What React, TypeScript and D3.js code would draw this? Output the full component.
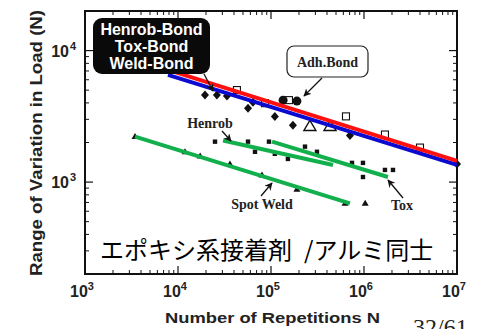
import React from "react";
import * as d3 from "d3";

// Fitted S-N trend lines: [repetitions, load range]
const redLine: [number, number][] = [[7800, 7140], [1e7, 1450]];
const blueLine: [number, number][] = [[7800, 6540], [1e7, 1350]];
const spotWeldLine: [number, number][] = [[3450, 2220], [706000, 689]];
const henrobLine: [number, number][] = [[30500, 2070], [464000, 1350]];
const toxLine: [number, number][] = [[102600, 2030], [1810000, 1093]];

// Test data by marker type
const diamonds: [number, number][] = [
  [19500, 4590], [26200, 4590], [33600, 4510], [56600, 3650], [64000, 4050],
  [110000, 3160], [172000, 2700], [706000, 2260], [1e7, 1375],
];
const openSquares: [number, number][] = [
  [43000, 5010], [86100, 3980], [156000, 4200], [640000, 3160], [1680000, 2300], [4000000, 1830],
];
const bigCircles: [number, number][] = [[135000, 4200], [190000, 4130]];
const openTriangles: [number, number][] = [[262000, 2650], [431000, 2650]];
const smallDots: [number, number][] = [
  [25000, 2030], [56600, 2030], [95100, 2030], [67300, 1700], [110000, 1640],
  [152000, 1500], [232000, 1860], [312000, 1700], [743000, 1400], [975000, 1400],
  [975000, 1093], [1680000, 1237], [2050000, 1237],
];
const smallTriangles: [number, number][] = [
  [3450, 2220], [11900, 1700], [17300, 1580], [36200, 1375], [80000, 1130],
  [190000, 884], [625000, 689], [1030000, 689],
];

const xDecades = [3, 4, 5, 6, 7];
const yDecades = [3, 4];
const bondLegend = ["Henrob-Bond", "Tox-Bond", "Weld-Bond"];

const W = 492;
const H = 329;
const plot = { left: 85, right: 457, top: 11, bottom: 274 };

export default function App() {
  const x = d3.scaleLog().domain([1e3, 1e7]).range([plot.left, plot.right]);
  const y = d3.scaleLog().domain([200, 20000]).range([plot.bottom, plot.top]);
  const line = d3
    .line<[number, number]>()
    .x((d) => x(d[0]))
    .y((d) => y(d[1]));

  const xMinor: number[] = [];
  for (let e = 3; e < 7; e++) for (let m = 2; m <= 9; m++) xMinor.push(m * 10 ** e);
  const yMinor: number[] = [];
  for (let e = 2; e < 5; e++)
    for (let m = 2; m <= 9; m++) {
      const v = m * 10 ** e;
      if (v > 200 && v < 20000) yMinor.push(v);
    }

  const sans = "'Liberation Sans', Arial, sans-serif";
  const serif = "'Liberation Serif', 'Times New Roman', serif";
  const green = "#12b04c";

  const arrow = (x1: number, y1: number, x2: number, y2: number, key: string) => (
    <line key={key} x1={x1} y1={y1} x2={x2} y2={y2} stroke="#111" strokeWidth={1.3} markerEnd="url(#ah)" />
  );

  return (
    <svg width={W} height={H} style={{ position: "absolute", left: 0, top: 0, background: "#fff" }}>
      <defs>
        <marker id="ah" viewBox="0 0 10 10" refX="9" refY="5" markerWidth="6" markerHeight="6" orient="auto">
          <path d="M0,0 L10,5 L0,10 L3,5 Z" fill="#111" />
        </marker>
      </defs>

      {/* frame */}
      <rect
        x={plot.left}
        y={plot.top}
        width={plot.right - plot.left}
        height={plot.bottom - plot.top}
        fill="none"
        stroke="#111"
        strokeWidth={2}
      />

      {/* x ticks: bottom and top */}
      {xDecades.map((e) => (
        <g key={"xm" + e}>
          <line x1={x(10 ** e)} x2={x(10 ** e)} y1={plot.bottom} y2={plot.bottom - 8} stroke="#111" strokeWidth={1.2} />
          <line x1={x(10 ** e)} x2={x(10 ** e)} y1={plot.top} y2={plot.top + 8} stroke="#111" strokeWidth={1.2} />
          <text x={x(10 ** e) - 3} y={297} textAnchor="middle" fontFamily={sans} fontWeight="bold" fontSize={16} fill="#222">
            10
            <tspan dy={-7} fontSize={11}>
              {e}
            </tspan>
          </text>
        </g>
      ))}
      {xMinor.map((v) => (
        <g key={"xn" + v}>
          <line x1={x(v)} x2={x(v)} y1={plot.bottom} y2={plot.bottom - 4} stroke="#111" strokeWidth={1} />
          <line x1={x(v)} x2={x(v)} y1={plot.top} y2={plot.top + 4} stroke="#111" strokeWidth={1} />
        </g>
      ))}

      {/* y ticks: left and right */}
      {yDecades.map((e) => (
        <g key={"ym" + e}>
          <line x1={plot.left} x2={plot.left + 8} y1={y(10 ** e)} y2={y(10 ** e)} stroke="#111" strokeWidth={1.2} />
          <line x1={plot.right} x2={plot.right - 8} y1={y(10 ** e)} y2={y(10 ** e)} stroke="#111" strokeWidth={1.2} />
          <text x={69} y={y(10 ** e) + 6} textAnchor="end" fontFamily={sans} fontWeight="bold" fontSize={16} fill="#222">
            10
          </text>
          <text x={70} y={y(10 ** e) - 1} fontFamily={sans} fontWeight="bold" fontSize={11} fill="#222">
            {e}
          </text>
        </g>
      ))}
      {yMinor.map((v) => (
        <g key={"yn" + v}>
          <line x1={plot.left} x2={plot.left + 4} y1={y(v)} y2={y(v)} stroke="#111" strokeWidth={1} />
          <line x1={plot.right} x2={plot.right - 4} y1={y(v)} y2={y(v)} stroke="#111" strokeWidth={1} />
        </g>
      ))}

      {/* axis titles */}
      <text
        transform="translate(42,276) rotate(-90)"
        fontFamily={sans}
        fontWeight="bold"
        fontSize={16}
        fill="#222"
        textLength={266}
        lengthAdjust="spacingAndGlyphs"
      >
        Range of Variation in Load (N)
      </text>
      <text x={165} y={323} fontFamily={sans} fontWeight="bold" fontSize={15} fill="#222" textLength={215} lengthAdjust="spacingAndGlyphs">
        Number of Repetitions N
      </text>

      {/* data markers */}
      {smallDots.map((d, i) => (
        <rect key={"sd" + i} x={x(d[0]) - 2.2} y={y(d[1]) - 2.2} width={4.4} height={4.4} fill="#111" />
      ))}
      {smallTriangles.map((d, i) => {
        const cx = x(d[0]);
        const cy = y(d[1]);
        return <path key={"st" + i} d={`M${cx},${cy - 3.5} L${cx + 3.5},${cy + 2.5} L${cx - 3.5},${cy + 2.5} Z`} fill="#111" />;
      })}
      {diamonds.map((d, i) => {
        const cx = x(d[0]);
        const cy = y(d[1]);
        return <path key={"dm" + i} d={`M${cx},${cy - 4.5} L${cx + 4},${cy} L${cx},${cy + 4.5} L${cx - 4},${cy} Z`} fill="#111" />;
      })}
      {openSquares.map((d, i) => (
        <rect key={"os" + i} x={x(d[0]) - 3.5} y={y(d[1]) - 3.5} width={7} height={7} fill="#fff" stroke="#111" strokeWidth={1.1} />
      ))}
      {bigCircles.map((d, i) => (
        <circle key={"bc" + i} cx={x(d[0])} cy={y(d[1])} r={4.5} fill="#111" />
      ))}
      {openTriangles.map((d, i) => {
        const cx = x(d[0]);
        const cy = y(d[1]);
        return (
          <path
            key={"ot" + i}
            d={`M${cx},${cy - 6} L${cx + 6},${cy + 4} L${cx - 6},${cy + 4} Z`}
            fill="#fff"
            stroke="#111"
            strokeWidth={1.4}
          />
        );
      })}

      {/* trend lines */}
      <path d={line(spotWeldLine) ?? ""} stroke={green} strokeWidth={4} fill="none" />
      <path d={line(henrobLine) ?? ""} stroke={green} strokeWidth={4} fill="none" />
      <path d={line(toxLine) ?? ""} stroke={green} strokeWidth={4} fill="none" />
      <path d={line(blueLine) ?? ""} stroke="#0a0ad0" strokeWidth={4} fill="none" />
      <path d={line(redLine) ?? ""} stroke="#ff1010" strokeWidth={4} fill="none" />

      {/* annotations */}
      <rect x={93} y={18} width={117} height={56} rx={9} fill="#0a0a0a" />
      {bondLegend.map((t, i) => (
        <text key={t} x={151.5} y={35 + i * 17} textAnchor="middle" fontFamily={sans} fontWeight="bold" fontSize={16} fill="#fff">
          {t}
        </text>
      ))}
      {arrow(204, 74, 213, 91, "a1")}

      <rect x={287} y={46} width={81} height={31} rx={7} fill="#fff" stroke="#222" strokeWidth={1.2} />
      <text x={327.5} y={67} textAnchor="middle" fontFamily={serif} fontWeight="bold" fontSize={14} fill="#222">
        Adh.Bond
      </text>
      {arrow(322, 78, 304, 96, "a2")}

      <text x={210} y={128} textAnchor="middle" fontFamily={serif} fontWeight="bold" fontSize={14} fill="#222">
        Henrob
      </text>
      {arrow(222, 131, 231, 141, "a3")}

      <text x={262} y={209} textAnchor="middle" fontFamily={serif} fontWeight="bold" fontSize={14} fill="#222">
        Spot Weld
      </text>
      {arrow(261, 196, 272, 183, "a4")}

      <text x={402} y={210} textAnchor="middle" fontFamily={serif} fontWeight="bold" fontSize={14} fill="#222">
        Tox
      </text>
      {arrow(403, 198, 388, 180, "a5")}

      <text x={100} y={259} fontFamily="'Noto Sans CJK JP', sans-serif" fontSize={24} fill="#000">
        エポキシ系接着剤
      </text>
      <text x={304} y={259} fontFamily="'Noto Sans CJK JP', sans-serif" fontSize={24} fill="#000">
        /アルミ同士
      </text>

      <text x={413} y={335} fontFamily={serif} fontSize={24} fill="#222">
        32/61
      </text>
    </svg>
  );
}
